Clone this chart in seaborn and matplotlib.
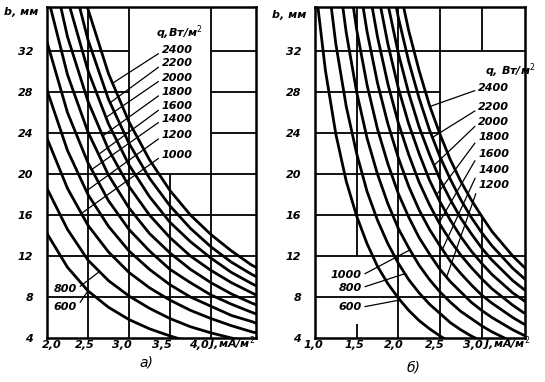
import numpy as np
import matplotlib
matplotlib.use('Agg')
import matplotlib.pyplot as plt
import matplotlib.transforms as mtransforms
import seaborn as sns

sns.set_theme(style='white')
plt.rcParams['font.family'] = ['DejaVu Sans']

nan = np.nan

# =========================
#  DATA
# =========================

Q_LEVELS = [600, 800, 1000, 1200, 1400, 1600, 1800, 2000, 2200, 2400]

# panel a): J, mA/m^2  ->  b, mm  (one row per q)
J_A = [2.0, 2.25, 2.5, 2.75, 3.0, 3.25, 3.5, 3.75, 4.0, 4.25, 4.5, 4.6]
B_A = [
    [14.2, 10.9, 8.6, 7.0, 5.8, 4.9, 4.2, 3.6, nan, nan, nan, nan],
    [18.6, 14.6, 11.6, 9.6, 8.1, 6.9, 5.9, 5.1, 4.5, 4.0, 3.6, nan],
    [23.5, 18.6, 15.0, 12.4, 10.4, 8.9, 7.7, 6.7, 5.9, 5.2, 4.6, 4.4],
    [28.2, 22.3, 18.0, 14.9, 12.5, 10.7, 9.2, 8.0, 7.1, 6.2, 5.6, 5.3],
    [32.9, 26.0, 21.1, 17.4, 14.6, 12.5, 10.7, 9.4, 8.2, 7.3, 6.5, 6.2],
    [37.6, 29.7, 24.1, 19.9, 16.7, 14.2, 12.3, 10.7, 9.4, 8.3, 7.4, 7.1],
    [42.3, 33.4, 27.1, 22.4, 18.8, 16.0, 13.8, 12.0, 10.6, 9.4, 8.4, 8.0],
    [47.0, 37.1, 30.1, 24.9, 20.9, 17.8, 15.3, 13.4, 11.8, 10.4, 9.3, 8.9],
    [nan, 40.9, 33.1, 27.3, 23.0, 19.6, 16.9, 14.7, 12.9, 11.4, 10.2, 9.8],
    [nan, 44.6, 36.1, 29.8, 25.1, 21.4, 18.4, 16.0, 14.1, 12.5, 11.1, 10.7],
]

# panel б)
J_B = [1.0, 1.125, 1.25, 1.375, 1.5, 1.625, 1.75, 1.875, 2.0, 2.125, 2.25,
       2.375, 2.5, 2.625, 2.75, 2.875, 3.0, 3.125, 3.25, 3.375, 3.5, 3.6]
B_B = [
    [38.7, 30.1, 23.9, 19.3, 15.9, 13.2, 11.0, 9.3, 7.9, 6.7, 5.7,
     4.9, 4.2, 3.6, nan, nan, nan, nan, nan, nan, nan, nan],
    [nan, 40.9, 32.7, 26.6, 22.0, 18.3, 15.5, 13.2, 11.3, 9.7, 8.4,
     7.3, 6.4, 5.5, 4.8, 4.2, 3.7, nan, nan, nan, nan, nan],
    [nan, nan, 41.4, 33.8, 28.0, 23.5, 20.0, 17.1, 14.7, 12.8, 11.1,
     9.7, 8.5, 7.5, 6.6, 5.9, 5.2, 4.6, 4.1, 3.6, nan, nan],
    [nan, nan, nan, 41.1, 34.1, 28.7, 24.4, 21.0, 18.1, 15.8, 13.8,
     12.2, 10.7, 9.5, 8.5, 7.5, 6.7, 6.0, 5.4, 4.8, 4.3, 3.9],
    [nan, nan, nan, nan, 40.2, 33.9, 28.9, 24.9, 21.6, 18.8, 16.5,
     14.6, 13.0, 11.5, 10.3, 9.2, 8.2, 7.4, 6.7, 6.0, 5.4, 5.0],
    [nan, nan, nan, nan, 46.3, 39.1, 33.4, 28.8, 25.0, 21.9, 19.2,
     17.0, 15.1, 13.5, 12.1, 10.9, 9.8, 8.8, 8.0, 7.2, 6.5, 6.1],
    [nan, nan, nan, nan, nan, 44.3, 37.9, 32.7, 28.4, 24.9, 22.0,
     19.4, 17.3, 15.5, 13.9, 12.5, 11.3, 10.2, 9.3, 8.4, 7.7, 7.1],
    [nan, nan, nan, nan, nan, nan, 42.3, 36.6, 31.8, 27.9, 24.6,
     21.9, 19.5, 17.5, 15.7, 14.2, 12.8, 11.6, 10.6, 9.6, 8.8, 8.2],
    [nan, nan, nan, nan, nan, nan, nan, 40.5, 35.3, 31.0, 27.4,
     24.3, 21.7, 19.5, 17.5, 15.8, 14.3, 13.0, 11.9, 10.8, 9.9, 9.2],
    [nan, nan, nan, nan, nan, nan, nan, nan, 38.7, 34.0, 30.1,
     26.7, 23.9, 21.4, 19.3, 17.5, 15.9, 14.4, 13.2, 12.0, 11.0, 10.3],
]

Y_TICKS = [4, 8, 12, 16, 20, 24, 28, 32]
X_TICKS_A = [2.0, 2.5, 3.0, 3.5, 4.0]
X_TICKS_B = [1.0, 1.5, 2.0, 2.5, 3.0]
X_LABELS_A = ['2,0', '2,5', '3,0', '3,5', '4,0']
X_LABELS_B = ['1,0', '1,5', '2,0', '2,5', '3,0']

# where each leader line meets its curve (J value)
LEADER_J_A = {2400: 2.80, 2200: 2.77, 2000: 2.72, 1800: 2.68, 1600: 2.63,
              1400: 2.545, 1200: 2.48, 1000: 2.42, 800: 2.64, 600: 2.50}
LEADER_J_B = {2400: 2.38, 2200: 2.41, 2000: 2.43, 1800: 2.46, 1600: 2.49,
              1400: 2.53, 1200: 2.58, 1000: 2.14, 800: 2.08, 600: 2.02}

YMAX = 36.3
INK = 'black'
TXT = dict(fontsize=8, fontstyle='italic', fontweight='bold', color=INK)


# =========================
#  HELPERS
# =========================

def curve_at(j, b, jt):
    j = np.asarray(j, float)
    b = np.asarray(b, float)
    ok = ~np.isnan(b)
    return float(np.interp(jt, j[ok], b[ok]))


def draw_grid(ax, vgrid, hgrid):
    for x, y0, y1 in vgrid:
        ax.vlines(x, y0, y1, color=INK, lw=1.3, zorder=1)
    for y, x0, x1 in hgrid:
        ax.hlines(y, x0, x1, color=INK, lw=1.3, zorder=1)


def draw_curves(ax, j, curves):
    for b in curves:
        sns.lineplot(x=j, y=b, ax=ax, color=INK, lw=2.0, estimator=None,
                     sort=False, legend=False, zorder=3)


def label_curve(ax, j, curves, q, jt, pos, ha='left'):
    b = curves[Q_LEVELS.index(q)]
    bt = curve_at(j, b, jt)
    rel = (0.0, 0.35) if ha == 'left' else (1.0, 0.5)
    ax.annotate(str(q), xy=(jt, bt), xytext=pos, ha=ha, va='center',
                arrowprops=dict(arrowstyle='-', lw=0.9, color=INK,
                                shrinkA=0, shrinkB=0, relpos=rel),
                zorder=4, **TXT)


def style_axes(ax, xlim, xticks, xlabels, shifts):
    ax.set_xlim(*xlim)
    ax.set_ylim(4, YMAX)
    ax.set_xticks(xticks)
    ax.set_xticklabels([])
    ax.set_yticks(Y_TICKS)
    ax.set_yticklabels([str(v) for v in Y_TICKS], **TXT)
    ax.tick_params(length=0)
    ax.tick_params(axis='y', pad=10)
    ax.set_xlabel('')
    ax.set_ylabel('')
    ax.grid(False)
    for s in ax.spines.values():
        s.set_color(INK)
        s.set_linewidth(1.8)
        s.set_visible(True)
    # x tick labels sit a little left of their grid lines in the original
    base = mtransforms.blended_transform_factory(ax.transData, ax.transAxes)
    for x, lab, dx in zip(xticks, xlabels, shifts):
        off = mtransforms.ScaledTranslation(dx / 100, -7 / 100,
                                            fig.dpi_scale_trans)
        ax.text(x, 0, lab, transform=base + off, ha='center', va='center',
                **TXT)


# =========================
#  FIGURE
# =========================

fig = plt.figure(figsize=(5.45, 3.82), dpi=100)
ax_a = fig.add_axes([0.0862, 0.1152, 0.3835, 0.8665])
ax_b = fig.add_axes([0.578, 0.1152, 0.385, 0.8665])

# ---- panel a)
xr_a = 4.55
draw_grid(ax_a,
          [(2.5, 4, YMAX), (3.0, 4, YMAX), (3.5, 4, 20), (4.0, 4, YMAX)],
          [(8, 2.0, xr_a), (12, 2.0, xr_a), (16, 2.0, xr_a), (20, 2.0, xr_a),
           (24, 2.0, 3.0), (28, 2.0, 3.0), (32, 2.0, 3.0),
           (24, 4.0, xr_a), (28, 4.0, xr_a), (32, 4.0, xr_a)])
draw_curves(ax_a, J_A, B_A)
style_axes(ax_a, (2.0, xr_a), X_TICKS_A, X_LABELS_A, [5, -3, -7, -8, -12])

ax_a.text(3.33, 33.8, 'q,Вт/м$^2$', ha='left', va='center', **TXT)
ya = {2400: 32.1, 2200: 30.8, 2000: 29.4, 1800: 28.0, 1600: 26.6,
      1400: 25.4, 1200: 23.8, 1000: 21.9}
for q, yl in ya.items():
    label_curve(ax_a, J_A, B_A, q, LEADER_J_A[q], (3.40, yl))
label_curve(ax_a, J_A, B_A, 800, LEADER_J_A[800], (2.365, 8.8), ha='right')
label_curve(ax_a, J_A, B_A, 600, LEADER_J_A[600], (2.365, 7.0), ha='right')

# ---- panel б)
xr_b = 3.52
draw_grid(ax_b,
          [(1.5, 12, YMAX), (1.5, 4, 5.4), (2.0, 4, YMAX), (2.5, 4, YMAX),
           (3.0, 32, YMAX), (3.0, 4, 16)],
          [(8, 1.0, xr_b), (12, 1.0, xr_b), (16, 1.0, 3.0),
           (20, 1.0, 2.5), (24, 1.0, 2.5), (28, 1.0, 2.5), (32, 1.0, xr_b)])
draw_curves(ax_b, J_B, B_B)
style_axes(ax_b, (1.0, xr_b), X_TICKS_B, X_LABELS_B, [-2, -2, -4, -5, -9])

ax_b.text(3.04, 30.1, 'q, Вт/м$^2$', ha='left', va='center', **TXT)
yb = {2400: 28.4, 2200: 26.5, 2000: 25.1, 1800: 23.6, 1600: 22.0,
      1400: 20.4, 1200: 18.9}
for q, yl in yb.items():
    label_curve(ax_b, J_B, B_B, q, LEADER_J_B[q], (2.96, yl))
label_curve(ax_b, J_B, B_B, 1000, LEADER_J_B[1000], (1.56, 10.1), ha='right')
label_curve(ax_b, J_B, B_B, 800, LEADER_J_B[800], (1.56, 8.9), ha='right')
label_curve(ax_b, J_B, B_B, 600, LEADER_J_B[600], (1.56, 7.0), ha='right')

# ---- axis titles and panel letters
fig.text(0.007, 0.969, 'b, мм', ha='left', va='center', **TXT)
fig.text(0.499, 0.962, 'b, мм', ha='left', va='center', **TXT)
fig.text(0.382, 0.100, 'J,мА/м$^2$', ha='left', va='center', **TXT)
fig.text(0.887, 0.100, 'J,мА/м$^2$', ha='left', va='center', **TXT)
fig.text(0.268, 0.052, 'а)', ha='center', va='center',
         fontsize=10, fontstyle='italic', color=INK)
fig.text(0.758, 0.039, 'б)', ha='center', va='center',
         fontsize=10, fontstyle='italic', color=INK)

fig.savefig('out.png', dpi=100)
